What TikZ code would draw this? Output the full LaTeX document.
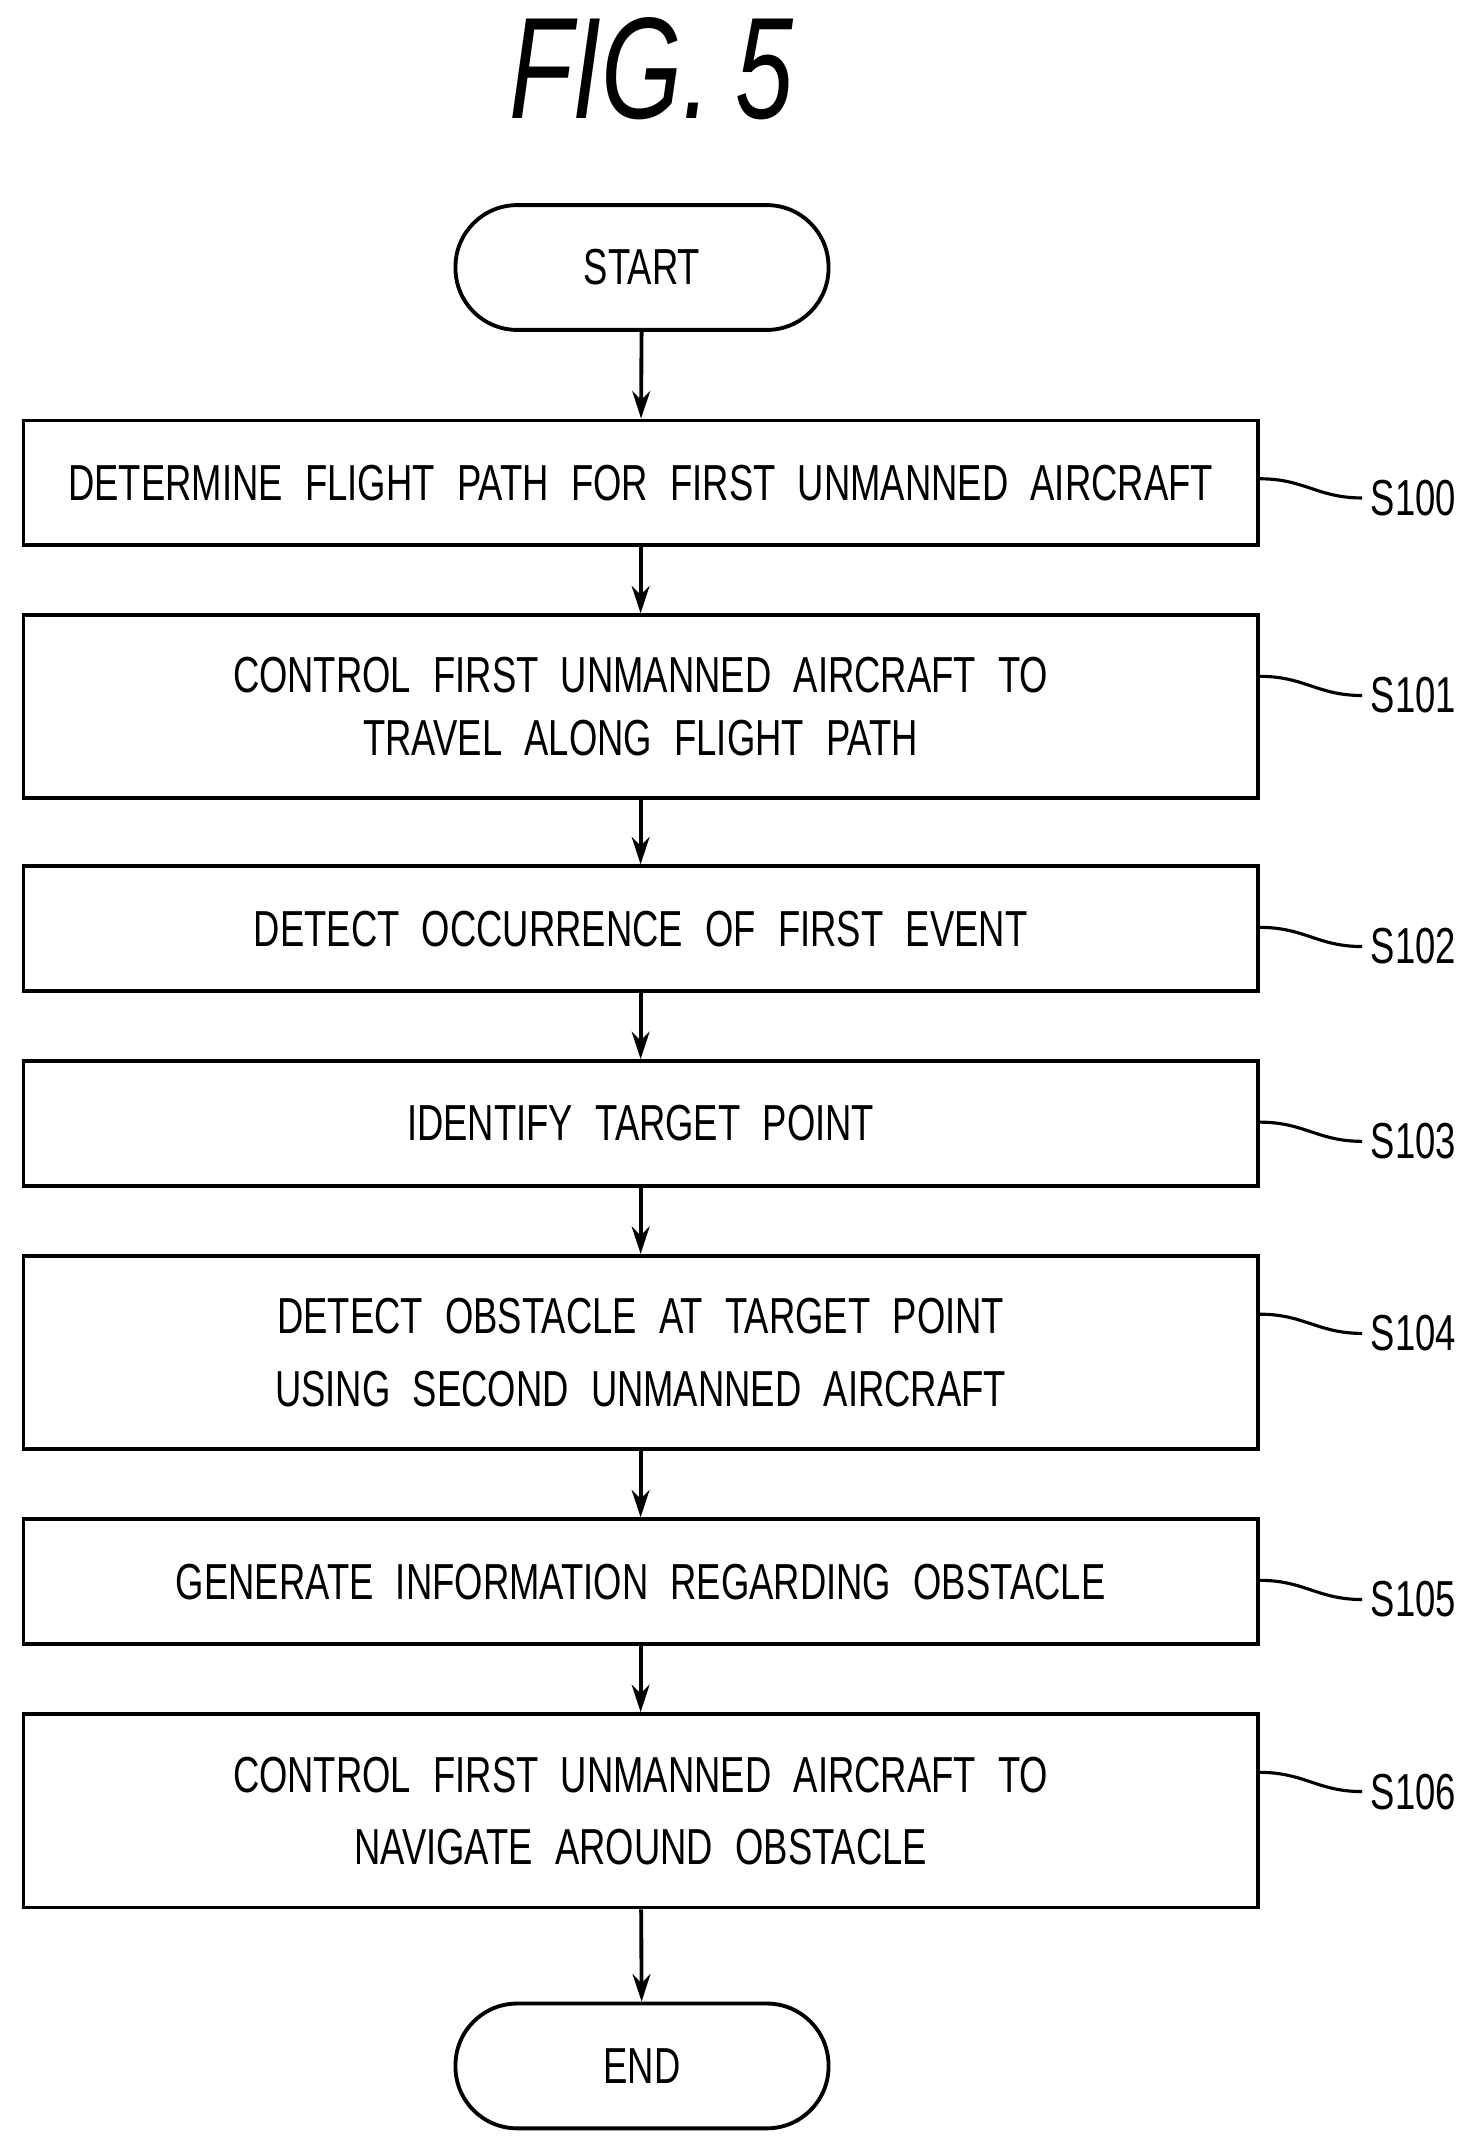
\documentclass[tikz,border=0pt]{standalone}
\usepackage{fontspec}
\setsansfont[FakeStretch=0.72,WordSpace=2.2]{Liberation Sans}
\usetikzlibrary{arrows.meta,positioning}
\tikzset{procbox/.style={
    % The shape:
    rectangle,
    minimum width=18cm,
    line width=1.6pt,
    draw=black,
    align=center,
    font=\sffamily\fontsize{21}{26}\selectfont
    },
    terminal/.style={
    rectangle,rounded corners=0.9cm,
    minimum width=5.44cm,
    minimum height=1.82cm,
    line width=1.6pt,
    draw=black,
    font=\sffamily\fontsize{21}{25}\selectfont
    },
    steplabel/.style={
    anchor=west,
    font=\sffamily\fontsize{21}{25}\selectfont
    },
    flow/.style={-{Stealth[length=4mm,width=2.6mm]},line width=1.6pt},
    tag/.style={line width=1.3pt},
}
\begin{document}
\begin{tikzpicture}[x=0.02cm,y=-0.02cm]
    \useasboundingbox (0,0) rectangle (1080,1560);
    \node (title) at (475,50) {\sffamily\itshape\fontsize{60}{64}\selectfont FIG.\,5};

    \node (start) [terminal] at (468,195) {START};
    \node (s100)  [procbox,minimum height=1.82cm] at (467,352)  {DETERMINE FLIGHT PATH FOR FIRST UNMANNED AIRCRAFT};
    \node (s101)  [procbox,minimum height=2.66cm] at (467,515)  {CONTROL FIRST UNMANNED AIRCRAFT TO\\TRAVEL ALONG FLIGHT PATH};
    \node (s102)  [procbox,minimum height=1.82cm] at (467,677)  {DETECT OCCURRENCE OF FIRST EVENT};
    \node (s103)  [procbox,minimum height=1.82cm] at (467,819)  {IDENTIFY TARGET POINT};
    \node (s104)  [procbox,minimum height=2.82cm] at (467,986)  {DETECT OBSTACLE AT TARGET POINT\\[4pt]USING SECOND UNMANNED AIRCRAFT};
    \node (s105)  [procbox,minimum height=1.82cm] at (467,1153) {GENERATE INFORMATION REGARDING OBSTACLE};
    \node (s106)  [procbox,minimum height=2.82cm] at (467,1320) {CONTROL FIRST UNMANNED AIRCRAFT TO\\[4pt]NAVIGATE AROUND OBSTACLE};
    \node (end)   [terminal] at (468,1506) {END};

    \draw[flow] (start) -- (s100);
    \draw[flow] (s100) -- (s101);
    \draw[flow] (s101) -- (s102);
    \draw[flow] (s102) -- (s103);
    \draw[flow] (s103) -- (s104);
    \draw[flow] (s104) -- (s105);
    \draw[flow] (s105) -- (s106);
    \draw[flow] (s106) -- (end);

    % step numbers
    \foreach \s/\n/\y in {s100/S100/363,s101/S101/507,s102/S102/690,s103/S103/832,s104/S104/972,s105/S105/1166,s106/S106/1306}{
        \node (l\s) [steplabel] at (993,\y) {\n};
        \draw[tag] (\s.east |- 0,\y-14) to[out=0,in=180,looseness=1.1] (l\s.west);
    }
\end{tikzpicture}
\end{document}
